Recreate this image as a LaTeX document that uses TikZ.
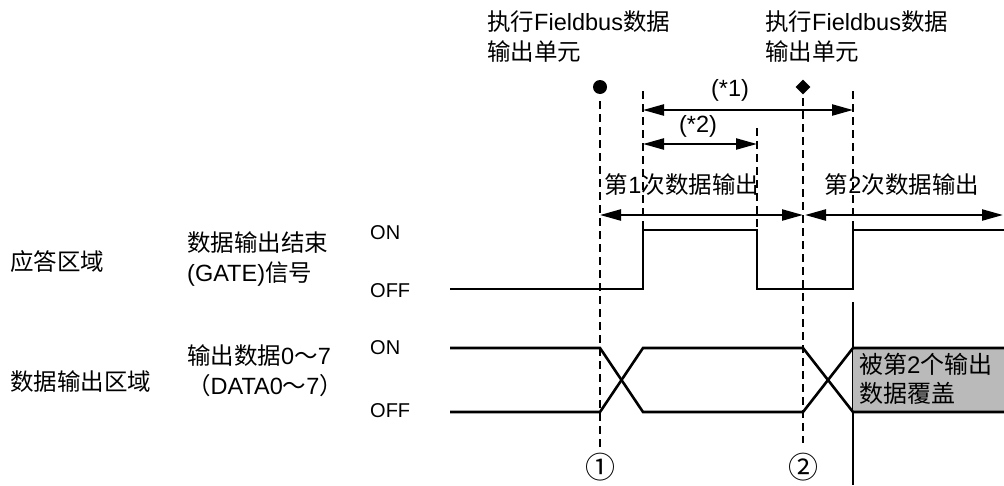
\documentclass[tikz,border=0pt]{standalone}
\usepackage{fontspec}
\setmainfont{Liberation Sans}
\newfontfamily\cjk{Noto Sans CJK SC}
\usetikzlibrary{arrows.meta,shapes.geometric}
\newcommand{\zh}[1]{{\cjk #1}}

\begin{document}
\begin{tikzpicture}[x=1pt,y=-1pt,>={Triangle[length=21pt,width=11pt]},
	sig/.style={line width=2.6pt},
	guide/.style={line width=2.5pt,dash pattern=on 8pt off 5pt},
	span/.style={<->,line width=2.3pt},
	txt/.style={font=\fontsize{23.5}{30}\selectfont,inner sep=0pt,align=left},
	lvl/.style={font=\fontsize{20}{24}\selectfont,inner sep=0pt,anchor=west}]
	\useasboundingbox (0,0) rectangle (1004,485);
	
%	zeitpunkte und pegel
	\def\xA{600} \def\xB{643} \def\xC{757} \def\xD{803} \def\xE{853}
	\def\gh{230} \def\gl{289} \def\dh{348} \def\dl{412}
	
%	obere beschriftung
	\node[txt,anchor=north west] (cmd1) at (487,11) {\zh{执行}Fieldbus\zh{数据}\\\zh{输出单元}};
	\node[txt,anchor=north west] (cmd2) at (765,11) {\zh{执行}Fieldbus\zh{数据}\\\zh{输出单元}};
	\node[circle,fill,inner sep=0pt,minimum size=14pt] (dot1) at (\xA,87) {};
	\node[diamond,fill,inner sep=0pt,minimum size=15pt] (dia2) at (\xD,87) {};
	
%	hilfslinien
	\foreach \x/\ya/\yb in {\xA/101/450,\xB/91/230,\xC/128/230,\xD/98/443,\xE/91/230}
		\draw[guide] (\x,\ya) -- (\x,\yb);
	\draw[sig] (\xE,302) -- (\xE,485);
	
%	zeitspannen
	\draw[span] (\xB,110) -- (\xE,110);
	\node[txt] (t1) at (730,90) {(*1)};
	\draw[span] (\xB,144) -- (\xC,144);
	\node[txt] (t2) at (698,126) {(*2)};
	\node[txt] (out1) at (682,185) {\zh{第}1\zh{次数据输出}};
	\node[txt] (out2) at (902,185) {\zh{第}2\zh{次数据输出}};
	\draw[span] (\xA,215) -- (\xD,215);
	\draw[span] (805,215) -- (1003,215);
	
%	GATE signal
	\draw[sig] (450,\gl) -- (\xB,\gl) -- (\xB,\gh) -- (\xC,\gh) -- (\xC,\gl)
		-- (\xE,\gl) -- (\xE,\gh) -- (1004,\gh);
	
%	daten
	\fill[black!27] (\xE,\dh) rectangle (1004,\dl);
	\draw[sig] (450,\dh) -- (\xA,\dh) -- (\xB,\dl) -- (\xD,\dl) -- (\xE,\dh) -- (1004,\dh);
	\draw[sig] (450,\dl) -- (\xA,\dl) -- (\xB,\dh) -- (\xD,\dh) -- (\xE,\dl) -- (1004,\dl);
	\node[txt,anchor=north west,font=\fontsize{24}{29}\selectfont] (ovr) at (859,353) {\zh{被第}2\zh{个输出}\\\zh{数据覆盖}};
	
%	linke beschriftung
	\node[txt,anchor=west] (area1) at (10,262) {\zh{应答区域}};
	\node[txt,anchor=west] (area2) at (10,382) {\zh{数据输出区域}};
	\node[txt,anchor=north west] (gate) at (187,231) {\zh{数据输出结束}\\(GATE)\zh{信号}};
	\node[txt,anchor=north west] (data) at (187,344) {\zh{输出数据}0\zh{～}7\\\zh{（}DATA0\zh{～}7\zh{）}};
	\node[lvl] (on1) at (370,233) {ON};
	\node[lvl] (off1) at (370,291) {OFF};
	\node[lvl] (on2) at (370,348) {ON};
	\node[lvl] (off2) at (370,411) {OFF};
	
%	nummern
	\node[txt,font=\cjk\fontsize{30}{32}\selectfont] (n1) at (\xA,467) {①};
	\node[txt,font=\cjk\fontsize{30}{32}\selectfont] (n2) at (\xD,467) {②};
\end{tikzpicture}
\end{document}
